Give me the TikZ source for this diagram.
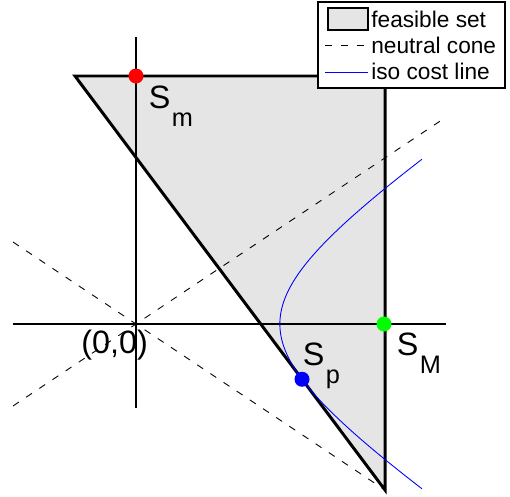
\documentclass[tikz,border=0pt]{standalone}
\usepackage{fontspec}
\setmainfont{Liberation Sans}
\usepackage{xcolor}
\usepackage{tikz}
\usetikzlibrary{positioning, calc}
\tikzset{
  % Plot styles
  feasible/.style={fill=gray!20, draw=black, line width=1.7pt, line join=miter},
  axis/.style={draw=black, line width=0.6pt},
  cone/.style={draw=black, line width=0.5pt, dash pattern=on 4pt off 5pt},
  isocost/.style={draw=blue, line width=0.5pt},
  pt/.style={circle, fill=#1, inner sep=0pt, minimum size=0.3cm},
  pt/.default={red},
  lbl/.style={anchor=base west, inner sep=0pt, font=\fontsize{18.4}{19}\selectfont},
  % Legend styles
  legendbox/.style={rectangle, draw=black, line width=0.8pt, fill=white, minimum width=3.74cm, minimum height=1.72cm},
  legendtext/.style={anchor=west, inner sep=0pt, font=\fontsize{12.9}{14}\selectfont},
  swatch/.style={rectangle, draw=black, line width=0.6pt, fill=gray!20, minimum width=0.8cm, minimum height=0.44cm, inner sep=0pt},
}
\newcommand{\sublbl}[1]{S\hspace{0.03cm}\raisebox{-0.36cm}{\fontsize{14.4}{15}\selectfont #1}}

\begin{document}
\begin{tikzpicture}
    \useasboundingbox (-2.72,-3.44) rectangle (7.48,6.48);

    % Corners of the feasible set
    \coordinate (tl) at (-1.22,4.96);
    \coordinate (tr) at (4.98,4.96);
    \coordinate (bot) at (4.98,-3.32);
    \fill[gray!20] (tl) -- (tr) -- (bot) -- cycle;

    % Axes
    \coordinate (xl) at (-2.46,0);
    \coordinate (xr) at (6.2,0);
    \coordinate (yb) at (0,-1.68);
    \coordinate (yt) at (0,5.74);
    \draw[axis] (xl) -- (xr);
    \draw[axis] (yb) -- (yt);

    % Neutral cone
    \coordinate (c1a) at (-2.46,-1.64);
    \coordinate (c1b) at (6.1,4.07);
    \coordinate (c2a) at (-2.46,1.64);
    \draw[cone] (c1a) -- (c1b);
    \draw[cone] (c2a) -- (bot);

    % Border
    \draw[feasible, fill=none] (tl) -- (tr) -- (bot) -- cycle;

    % Iso cost line
    \draw[isocost, domain=-1.31:1.31, samples=90, variable=\t]
      plot ({2.877*cosh(\t)}, {2/3*2.877*sinh(\t)});

    % Points
    \node[pt=red] (sm) at (0,4.96) {};
    \node[pt=green] (bigsm) at (4.96,0) {};
    \node[pt=blue] (sp) at (3.32,-1.105) {};

    % Labels
    \node[lbl] (smlbl) at (0.25,4.32) {\sublbl{m}};
    \node[lbl] (splbl) at (3.33,-0.82) {\sublbl{p}};
    \node[lbl] (bigsmlbl) at (5.21,-0.62) {\sublbl{M}};
    \node[lbl] (orig) at (-1.10,-0.58) {(0,0)};

    % Legend
    \node[legendbox] (legend) at (5.51,5.58) {};
    \node[swatch] (swfeas) at (4.24,6.10) {};
    \coordinate (swcone1) at (3.78,5.58);
    \coordinate (swcone2) at (4.64,5.58);
    \coordinate (swiso1) at (3.78,5.04);
    \coordinate (swiso2) at (4.64,5.04);
    \draw[cone] (swcone1) -- (swcone2);
    \draw[isocost] (swiso1) -- (swiso2);
    \node[legendtext] (txfeas) at (4.70,6.10) {feasible set};
    \node[legendtext] (txcone) at (4.70,5.58) {neutral cone};
    \node[legendtext] (txiso) at (4.70,5.05) {iso cost line};
\end{tikzpicture}
\end{document}
